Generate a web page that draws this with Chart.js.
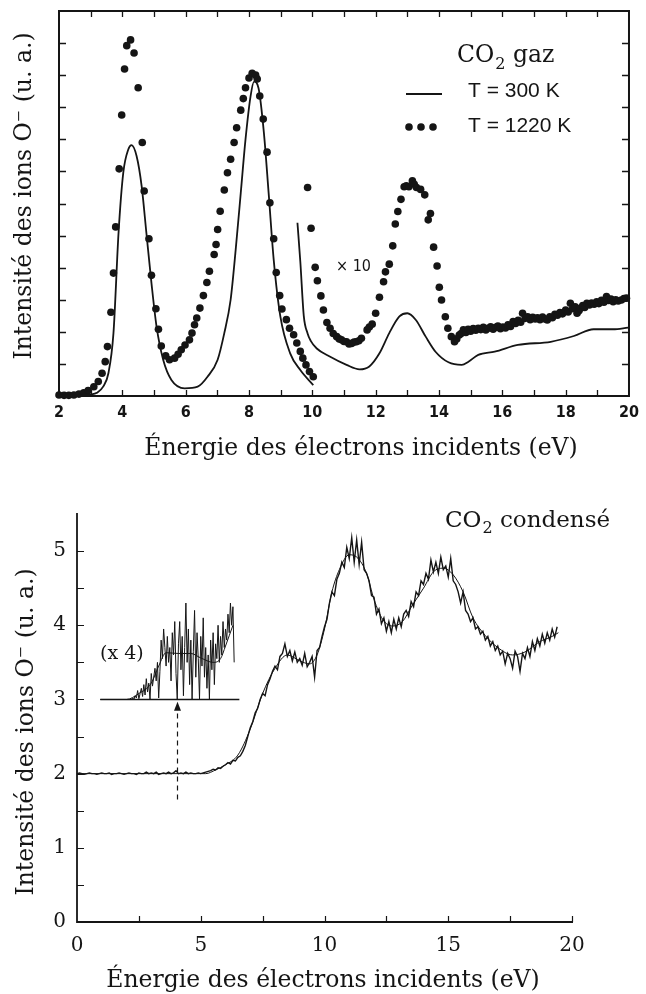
<!DOCTYPE html>
<html lang="fr">
<head>
<meta charset="utf-8">
<title>Ions O- : CO2 gaz et CO2 condensé</title>
<script src="https://cdn.jsdelivr.net/npm/chart.js@4.4.1/dist/chart.umd.min.js"></script>
<style>
  html, body { margin: 0; padding: 0; background: #fff; }
  #page { position: relative; width: 646px; height: 994px; overflow: hidden; }
  canvas { position: absolute; left: 0; }
  #gazChart { top: 0; }
  #condChart { top: 460px; }
</style>
</head>
<body>
<div id="page">
  <canvas id="gazChart" width="646" height="460"></canvas>
  <canvas id="condChart" width="646" height="534"></canvas>
</div>
<script>
// ---------- Données : CO2 gaz (graphe du haut) ----------
const gazXTicks = [2, 4, 6, 8, 10, 12, 14, 16, 18, 20];

// T = 300 K, trait plein, partie 2-10 eV
const solidBasE = [2.0, 2.5, 3.0, 3.2, 3.4, 3.56, 3.72, 3.88, 4.03, 4.19, 4.29, 4.45, 4.61, 4.76, 4.92, 5.08, 5.29, 5.55, 5.97, 6.38, 6.69, 7.01, 7.22, 7.42, 7.58, 7.74, 7.89, 8.05, 8.16, 8.3, 8.47, 8.62, 8.78, 8.99, 9.3, 9.62, 10.03];
const solidBasI = [0.03, 0.03, 0.05, 0.1, 0.3, 0.71, 1.96, 5.08, 6.96, 7.69, 7.82, 7.48, 6.54, 5.08, 3.52, 2.17, 1.13, 0.5, 0.24, 0.29, 0.6, 1.13, 1.96, 3.0, 4.56, 6.33, 8.0, 9.35, 9.8, 9.6, 8.21, 6.33, 4.25, 2.48, 1.33, 0.81, 0.34];

// T = 300 K, partie x10
const solidHautE = [9.53, 9.62, 9.73, 9.85, 9.95, 10.14, 10.55, 11.08, 11.49, 11.8, 12.12, 12.43, 12.75, 13.0, 13.27, 13.58, 13.89, 14.3, 14.72, 14.93, 15.24, 15.76, 16.49, 17.53, 18.26, 18.88, 19.5, 19.97];
const solidHautI = [5.4, 4.2, 2.5, 1.95, 1.72, 1.48, 1.23, 0.97, 0.83, 0.92, 1.33, 1.96, 2.48, 2.58, 2.37, 1.85, 1.38, 1.05, 0.97, 1.07, 1.28, 1.38, 1.59, 1.69, 1.87, 2.08, 2.08, 2.13];

// T = 1220 K, points, partie 2-10 eV
const dotsBasE = [2.0, 2.16, 2.31, 2.47, 2.63, 2.78, 2.92, 3.1, 3.24, 3.36, 3.46, 3.53, 3.64, 3.72, 3.79, 3.9, 3.98, 4.07, 4.14, 4.26, 4.37, 4.5, 4.63, 4.69, 4.84, 4.92, 5.06, 5.14, 5.23, 5.37, 5.49, 5.65, 5.76, 5.86, 5.98, 6.12, 6.2, 6.28, 6.35, 6.45, 6.56, 6.67, 6.75, 6.9, 6.96, 7.01, 7.09, 7.22, 7.32, 7.42, 7.53, 7.61, 7.74, 7.82, 7.89, 8.0, 8.1, 8.21, 8.26, 8.34, 8.45, 8.57, 8.66, 8.78, 8.86, 8.97, 9.04, 9.18, 9.28, 9.41, 9.51, 9.62, 9.7, 9.8, 9.91, 10.03];
const dotsBasI = [0.03, 0.02, 0.02, 0.03, 0.06, 0.1, 0.17, 0.29, 0.45, 0.71, 1.07, 1.54, 2.61, 3.83, 5.27, 7.08, 8.76, 10.19, 10.92, 11.1, 10.69, 9.61, 7.9, 6.39, 4.9, 3.76, 2.72, 2.08, 1.56, 1.25, 1.13, 1.18, 1.3, 1.44, 1.59, 1.75, 1.96, 2.22, 2.43, 2.74, 3.13, 3.54, 3.89, 4.41, 4.72, 5.19, 5.76, 6.42, 6.96, 7.38, 7.9, 8.36, 8.91, 9.27, 9.61, 9.91, 10.06, 10.0, 9.88, 9.35, 8.63, 7.6, 6.02, 4.9, 3.85, 3.13, 2.71, 2.38, 2.11, 1.91, 1.65, 1.39, 1.18, 0.97, 0.76, 0.6];

// T = 1220 K, partie x10
const dotsHautE = [9.85, 9.96, 10.09, 10.16, 10.27, 10.35, 10.46, 10.56, 10.66, 10.77, 10.85, 10.92, 11.0, 11.08, 11.16, 11.24, 11.32, 11.39, 11.47, 11.55, 11.73, 11.8, 11.89, 12.0, 12.12, 12.25, 12.31, 12.43, 12.54, 12.62, 12.7, 12.8, 12.9, 12.97, 13.05, 13.16, 13.22, 13.29, 13.42, 13.55, 13.66, 13.73, 13.83, 13.94, 14.01, 14.08, 14.2, 14.28, 14.39, 14.49, 14.56, 14.64, 14.7, 14.77,
  14.85, 14.92, 15.0, 15.08, 15.16, 15.24, 15.32, 15.4, 15.48, 15.55, 15.63, 15.71, 15.79, 15.86, 15.94, 16.02, 16.1, 16.18, 16.26, 16.34, 16.42, 16.5, 16.58, 16.64, 16.72, 16.8, 16.88, 16.96, 17.04, 17.11, 17.19, 17.27, 17.35, 17.42, 17.5, 17.58, 17.66, 17.74, 17.82, 17.9, 18.0, 18.08, 18.15, 18.22, 18.3, 18.36, 18.42, 18.46, 18.54, 18.6, 18.67, 18.75, 18.82, 18.9, 18.98, 19.05, 19.13, 19.21, 19.29, 19.36, 19.43, 19.5, 19.58, 19.66, 19.76, 19.84, 19.92];
const dotsHautI = [6.5, 5.23, 4.01, 3.59, 3.12, 2.68, 2.29, 2.11, 1.95, 1.85, 1.78, 1.75, 1.7, 1.69, 1.62, 1.64, 1.68, 1.69, 1.72, 1.8, 2.06, 2.15, 2.24, 2.58, 3.08, 3.56, 3.87, 4.11, 4.68, 5.36, 5.75, 6.13, 6.52, 6.55, 6.52, 6.71, 6.6, 6.5, 6.44, 6.27, 5.49, 5.69, 4.64, 4.05, 3.39, 2.99, 2.47, 2.11, 1.85, 1.69, 1.78, 1.9, 1.95, 2.06,
  1.98, 2.08, 2.02, 2.1, 2.05, 2.11, 2.07, 2.14, 2.06, 2.11, 2.16, 2.08, 2.14, 2.18, 2.1, 2.15, 2.12, 2.22, 2.17, 2.32, 2.26, 2.36, 2.3, 2.58, 2.42, 2.47, 2.38, 2.45, 2.4, 2.44, 2.38, 2.46, 2.4, 2.37, 2.47, 2.44, 2.55, 2.52, 2.6, 2.56, 2.68, 2.62, 2.89, 2.72, 2.78, 2.58, 2.66, 2.73, 2.82, 2.76, 2.89, 2.84, 2.9, 2.86, 2.94, 2.88, 2.98, 2.92, 3.1, 2.98, 3.02, 2.94, 3.0, 2.96, 2.99, 3.04, 3.05];

// ---------- Données : CO2 condensé (graphe du bas) ----------
const condXTicks = [0, 5, 10, 15, 20];
const condYTicks = [0, 1, 2, 3, 4, 5];

// signal brut, pas de 0,1 eV depuis 0 eV
const condBrutDebut = 0;
const condBrutPas = 0.1;
const condBrutI = [
  2.00, 2.01, 2.00, 1.99, 2.00, 2.01, 2.00, 2.00, 1.99, 2.00,
  2.01, 2.00, 2.00, 2.01, 1.99, 2.00, 2.00, 2.01, 2.00, 1.99,
  2.00, 2.01, 2.00, 2.00, 1.99, 2.01, 2.00, 2.00, 2.02, 2.00,
  2.01, 2.00, 2.02, 1.99, 2.00, 2.01, 2.00, 2.02, 2.00, 2.01,
  2.04, 2.00, 2.01, 2.00, 2.02, 2.00, 2.01, 2.00, 2.00, 2.01,
  2.00, 2.01, 2.02, 2.03, 2.04, 2.06, 2.05, 2.08, 2.07, 2.10,
  2.12, 2.15, 2.13, 2.18, 2.17, 2.22, 2.24, 2.30, 2.38, 2.50,
  2.62, 2.70, 2.82, 2.88, 3.00, 3.08, 3.05, 3.20, 3.28, 3.38,
  3.45, 3.40, 3.58, 3.62, 3.75, 3.58, 3.66, 3.52, 3.64, 3.50,
  3.55, 3.46, 3.62, 3.44, 3.50, 3.58, 3.30, 3.66, 3.70, 3.85,
  3.98, 4.08, 4.30, 4.45, 4.40, 4.62, 4.70, 4.85, 4.78, 5.05,
  4.90, 5.18, 4.85, 5.15, 4.82, 5.12, 4.75, 4.70, 4.60, 4.40,
  4.38, 4.15, 4.22, 4.02, 4.10, 3.92, 4.05, 3.90, 4.08, 3.95,
  4.10, 3.98, 4.15, 4.20, 4.12, 4.32, 4.25, 4.45, 4.40, 4.60,
  4.55, 4.70, 4.62, 4.88, 4.72, 4.85, 4.70, 4.92, 4.75, 4.80,
  4.65, 4.90, 4.60, 4.55, 4.45, 4.30, 4.45, 4.20, 4.15, 4.05,
  4.10, 3.95, 3.98, 3.88, 3.92, 3.80, 3.85, 3.72, 3.78, 3.66,
  3.72, 3.60, 3.65, 3.48, 3.62, 3.55, 3.42, 3.65, 3.58, 3.38,
  3.62, 3.55, 3.70, 3.58, 3.78, 3.66, 3.82, 3.72, 3.88, 3.76,
  3.90, 3.80, 3.95, 3.84, 3.98
];

// courbe lissée
const condLisseE = [0, 5.2, 5.6, 6.0, 6.5, 7.0, 7.5, 8.0, 8.5, 9.0, 9.4, 9.7, 10.0, 10.3, 10.6, 11.0, 11.3, 11.7, 12.0, 12.35, 12.75, 13.15, 13.55, 14.0, 14.4, 14.8, 15.2, 15.6, 16.0, 16.5, 17.0, 17.6, 18.1, 18.7, 19.2, 19.45];
const condLisseI = [2.0, 2.0, 2.05, 2.12, 2.25, 2.6, 3.08, 3.42, 3.6, 3.52, 3.48, 3.6, 3.95, 4.45, 4.75, 4.95, 4.92, 4.7, 4.35, 4.08, 3.99, 4.05, 4.27, 4.5, 4.72, 4.77, 4.68, 4.45, 4.1, 3.86, 3.7, 3.6, 3.64, 3.78, 3.85, 3.9];

// encart (x 4)
const encartBaseE = [0.94, 6.56];
const encartBaseI = [3, 3];
const encartLisseE = [0.94, 2.0, 2.5, 3.0, 3.3, 3.6, 4.1, 4.6, 5.0, 5.5, 5.8, 6.0, 6.3];
const encartLisseI = [3.0, 3.0, 3.08, 3.22, 3.45, 3.63, 3.62, 3.62, 3.56, 3.5, 3.55, 3.72, 4.0];
const encartBrutDebut = 2.2;
const encartBrutPas = 0.05;
const encartBrutI = [
  3.00, 3.02, 3.00, 3.05, 3.02, 3.12, 3.01, 3.08, 3.15, 3.04,
  3.20, 3.06, 3.28, 3.10, 3.22, 3.00, 3.35, 3.18, 3.30, 3.42,
  3.25, 3.50, 3.02, 3.38, 3.80, 3.55, 3.95, 3.70, 3.45, 3.85,
  3.50, 3.70, 3.25, 3.90, 3.60, 4.05, 3.35, 3.00, 3.75, 4.05,
  3.40, 3.85, 3.05, 3.70, 4.30, 3.50, 3.95, 3.20, 3.80, 3.00,
  3.65, 4.20, 3.30, 3.90, 3.55, 3.00, 3.85, 3.45, 4.10, 3.30,
  3.70, 3.15, 3.60, 3.00, 3.80, 3.40, 3.90, 3.20, 3.75, 3.55,
  4.00, 3.50, 3.85, 3.60, 4.05, 3.70, 3.95, 3.80, 4.15, 3.90,
  4.30, 4.00, 4.25, 3.50
];

// flèche pointillée vers l'encart
const flecheE = 4.04;
const flecheDe = 1.65;
const flecheA = 2.97;

// ---------- utilitaires ----------
function pts(xs, ys) {
  return xs.map((x, i) => ({ x: x, y: ys[i] }));
}
function ptsPas(debut, pas, ys) {
  return ys.map((y, i) => ({ x: +(debut + i * pas).toFixed(3), y: y }));
}

const SERIF = "'DejaVu Serif', 'Liberation Serif', serif";
const SANS = "'Liberation Sans', Arial, sans-serif";
const NARROW = "'Liberation Sans Narrow', 'DejaVu Sans Condensed', sans-serif";
const NOIR = '#151515';

// CO + indice 2 + suite
function texteCO2(ctx, x, y, taille, suite) {
  ctx.font = taille + 'px ' + SERIF;
  ctx.textAlign = 'left';
  ctx.textBaseline = 'alphabetic';
  ctx.fillText('CO', x, y);
  let w = ctx.measureText('CO').width;
  ctx.font = Math.round(taille * 0.68) + 'px ' + SERIF;
  ctx.fillText('2', x + w + 1, y + taille * 0.28);
  w += ctx.measureText('2').width + 1;
  ctx.font = taille + 'px ' + SERIF;
  ctx.fillText(suite, x + w, y);
}

function titreY(ctx, texte, cx, cy, taille) {
  ctx.save();
  ctx.translate(cx, cy);
  ctx.rotate(-Math.PI / 2);
  ctx.font = taille + 'px ' + SERIF;
  ctx.textAlign = 'center';
  ctx.textBaseline = 'middle';
  ctx.fillText(texte, 0, 0);
  ctx.restore();
}

// ---------- décor du graphe du haut ----------
const gazDecor = {
  id: 'gazDecor',
  afterDatasetsDraw(chart) {
    const { ctx, chartArea: a, scales: { x, y } } = chart;
    ctx.save();
    ctx.strokeStyle = NOIR;
    ctx.fillStyle = NOIR;

    // cadre
    ctx.lineWidth = 2;
    ctx.strokeRect(a.left, a.top, a.right - a.left, a.bottom - a.top);

    // graduations vers l'intérieur
    ctx.lineWidth = 1.3;
    ctx.beginPath();
    for (let v = 3; v < 20; v++) {
      const px = Math.round(x.getPixelForValue(v)) + 0.5;
      ctx.moveTo(px, a.bottom); ctx.lineTo(px, a.bottom - 6);
      ctx.moveTo(px, a.top); ctx.lineTo(px, a.top + 6);
    }
    for (let v = 1; v < 12; v++) {
      const py = Math.round(y.getPixelForValue(v)) + 0.5;
      ctx.moveTo(a.left, py); ctx.lineTo(a.left + 7, py);
      ctx.moveTo(a.right, py); ctx.lineTo(a.right - 7, py);
    }
    ctx.stroke();

    // légende
    texteCO2(ctx, 457, 62, 23.5, ' gaz');
    ctx.font = '21px ' + SANS;
    ctx.fillText('T = 300 K', 468, 97);
    ctx.fillText('T = 1220 K', 468, 132);
    ctx.lineWidth = 2;
    ctx.beginPath();
    ctx.moveTo(406, 94); ctx.lineTo(442, 94);
    ctx.stroke();
    [409, 421, 433].forEach(cx => {
      ctx.beginPath();
      ctx.arc(cx, 127, 3.8, 0, Math.PI * 2);
      ctx.fill();
    });

    // facteur d'échelle
    ctx.font = '16px ' + NARROW;
    ctx.fillText('× 10', 336, 271);

    // titres des axes
    ctx.font = '23.5px ' + SERIF;
    ctx.textAlign = 'center';
    ctx.fillText('Énergie des électrons incidents (eV)', 361, 455);
    titreY(ctx, 'Intensité des ions O⁻ (u. a.)', 25, 196, 23.5);
    ctx.restore();
  }
};

// ---------- décor du graphe du bas ----------
const condDecor = {
  id: 'condDecor',
  afterDatasetsDraw(chart) {
    const { ctx, chartArea: a, scales: { x, y } } = chart;
    ctx.save();
    ctx.strokeStyle = NOIR;
    ctx.fillStyle = NOIR;

    // axes (gauche et bas seulement)
    ctx.lineWidth = 1.8;
    ctx.beginPath();
    ctx.moveTo(a.left, a.top - 1);
    ctx.lineTo(a.left, a.bottom);
    ctx.lineTo(a.right + 1, a.bottom);
    ctx.stroke();

    // graduations vers l'intérieur
    ctx.lineWidth = 1.2;
    ctx.beginPath();
    for (let v = 2.5; v <= 20; v += 2.5) {
      const px = Math.round(x.getPixelForValue(v)) + 0.5;
      ctx.moveTo(px, a.bottom); ctx.lineTo(px, a.bottom - 6);
    }
    for (let v = 0.5; v <= 5; v += 0.5) {
      const py = Math.round(y.getPixelForValue(v)) + 0.5;
      ctx.moveTo(a.left, py); ctx.lineTo(a.left + 7, py);
    }
    ctx.stroke();

    // flèche pointillée
    const fx = Math.round(x.getPixelForValue(flecheE)) + 0.5;
    const fy0 = y.getPixelForValue(flecheDe);
    const fy1 = y.getPixelForValue(flecheA);
    ctx.lineWidth = 1.2;
    ctx.setLineDash([5, 4]);
    ctx.beginPath();
    ctx.moveTo(fx, fy0); ctx.lineTo(fx, fy1 + 7);
    ctx.stroke();
    ctx.setLineDash([]);
    ctx.beginPath();
    ctx.moveTo(fx, fy1);
    ctx.lineTo(fx - 3.5, fy1 + 9);
    ctx.lineTo(fx + 3.5, fy1 + 9);
    ctx.closePath();
    ctx.fill();

    // textes
    texteCO2(ctx, 445, 67, 23, ' condensé');
    ctx.font = '19px ' + SERIF;
    ctx.fillText('(x 4)', 100, 199);
    ctx.font = '23.5px ' + SERIF;
    ctx.textAlign = 'center';
    ctx.fillText('Énergie des électrons incidents (eV)', 323, 527);
    titreY(ctx, 'Intensité des ions O⁻ (u. a.)', 27, 272, 23.5);
    ctx.restore();
  }
};

Chart.defaults.color = NOIR;
Chart.defaults.animation = false;

// ---------- graphe du haut ----------
new Chart(document.getElementById('gazChart').getContext('2d'), {
  type: 'scatter',
  data: {
    datasets: [
      { label: 'T = 300 K', data: pts(solidBasE, solidBasI), showLine: true, borderColor: NOIR, borderWidth: 1.8, pointRadius: 0, cubicInterpolationMode: 'monotone' },
      { label: 'T = 300 K (x10)', data: pts(solidHautE, solidHautI), showLine: true, borderColor: NOIR, borderWidth: 1.8, pointRadius: 0, cubicInterpolationMode: 'monotone' },
      { label: 'T = 1220 K', data: pts(dotsBasE, dotsBasI), pointRadius: 3.8, pointBackgroundColor: NOIR, pointBorderWidth: 0, clip: 6 },
      { label: 'T = 1220 K (x10)', data: pts(dotsHautE, dotsHautI), pointRadius: 3.8, pointBackgroundColor: NOIR, pointBorderWidth: 0, clip: 6 }
    ]
  },
  options: {
    responsive: false,
    layout: { padding: { left: 0, right: 10, top: 11, bottom: 0 } },
    plugins: { legend: { display: false }, tooltip: { enabled: false } },
    scales: {
      x: {
        type: 'linear', min: 2, max: 20,
        afterBuildTicks: s => { s.ticks = gazXTicks.map(v => ({ value: v })); },
        afterFit: s => { s.height = 64; },
        grid: { display: false, drawTicks: false },
        border: { display: false },
        ticks: { padding: 7, autoSkip: false, maxRotation: 0, font: { family: NARROW, size: 16, weight: 'bold' }, color: NOIR }
      },
      y: {
        type: 'linear', min: 0, max: 12,
        afterFit: s => { s.width = 59; },
        grid: { display: false, drawTicks: false },
        border: { display: false },
        ticks: { display: false }
      }
    }
  },
  plugins: [gazDecor]
});

// ---------- graphe du bas ----------
new Chart(document.getElementById('condChart').getContext('2d'), {
  type: 'scatter',
  data: {
    datasets: [
      { label: 'signal', data: ptsPas(condBrutDebut, condBrutPas, condBrutI), showLine: true, borderColor: NOIR, borderWidth: 1.4, pointRadius: 0 },
      { label: 'lissé', data: pts(condLisseE, condLisseI), showLine: true, borderColor: NOIR, borderWidth: 1, pointRadius: 0, cubicInterpolationMode: 'monotone' },
      { label: 'encart base', data: pts(encartBaseE, encartBaseI), showLine: true, borderColor: NOIR, borderWidth: 1.5, pointRadius: 0 },
      { label: 'encart lissé', data: pts(encartLisseE, encartLisseI), showLine: true, borderColor: NOIR, borderWidth: 1, pointRadius: 0, cubicInterpolationMode: 'monotone' },
      { label: 'encart signal', data: ptsPas(encartBrutDebut, encartBrutPas, encartBrutI), showLine: true, borderColor: NOIR, borderWidth: 1, pointRadius: 0 }
    ]
  },
  options: {
    responsive: false,
    layout: { padding: { left: 0, right: 74, top: 54, bottom: 0 } },
    plugins: { legend: { display: false }, tooltip: { enabled: false } },
    scales: {
      x: {
        type: 'linear', min: 0, max: 20,
        afterBuildTicks: s => { s.ticks = condXTicks.map(v => ({ value: v })); },
        afterFit: s => { s.height = 72; },
        grid: { display: false, drawTicks: false },
        border: { display: false },
        ticks: { padding: 12, autoSkip: false, maxRotation: 0, font: { family: SERIF, size: 20 }, color: NOIR }
      },
      y: {
        type: 'linear', min: 0, max: 5.5,
        afterBuildTicks: s => { s.ticks = condYTicks.map(v => ({ value: v })); },
        afterFit: s => { s.width = 77; },
        grid: { display: false, drawTicks: false },
        border: { display: false },
        ticks: { padding: 11, font: { family: SERIF, size: 20 }, color: NOIR }
      }
    }
  },
  plugins: [condDecor]
});
</script>
</body>
</html>
